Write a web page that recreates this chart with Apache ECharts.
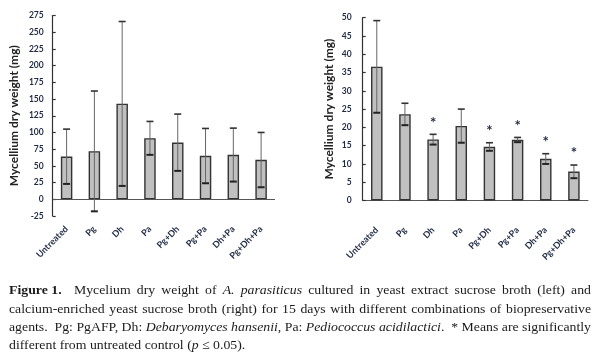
<!DOCTYPE html>
<html>
<head>
<meta charset="utf-8">
<script src="https://cdn.jsdelivr.net/npm/echarts@6/dist/echarts.min.js"></script>
<style>
html,body{margin:0;padding:0;background:#fff;}
#c{width:600px;height:359px;}
</style>
</head>
<body>
<div id="c"></div>
<script>
// ---- data ----
const categories = ['Untreated','Pg','Dh','Pa','Pg+Dh','Pg+Pa','Dh+Pa','Pg+Dh+Pa'];
const leftMeans = [64, 72, 143, 91.5, 85, 65, 66.5, 59];
const leftSD    = [41, 90, 123, 25, 42.5, 41, 40, 41];
const rightMeans = [36.6, 23.6, 16.7, 20.4, 14.7, 16.6, 11.4, 7.9];
const rightSD    = [12.6, 3.0, 1.4, 4.6, 1.1, 0.65, 1.4, 1.8];
const rightSig   = [0, 0, 1, 0, 1, 1, 1, 1];
const leftTicks = {min: -25, max: 275, interval: 25};
const rightTicks = {min: 0, max: 50, interval: 5};
const yName = 'Mycellium dry weight (mg)';

const captionLines = [
  [['Figure 1.','b'],['',''],['Mycelium',''],['dry',''],['weight',''],['of',''],['A.','i'],['parasiticus','i'],['cultured',''],['in',''],['yeast',''],['extract',''],['sucrose',''],['broth',''],['(left)',''],['and','']],
  [['calcium-enriched',''],['yeast',''],['sucrose',''],['broth',''],['(right)',''],['for',''],['15',''],['days',''],['with',''],['different',''],['combinations',''],['of',''],['biopreservative','']],
  [['agents.',''],['',''],['Pg:',''],['PgAFP,',''],['Dh:',''],['Debaryomyces','i'],['hansenii','i'],[',',''],['Pa:',''],['Pediococcus','i'],['acidilactici','i'],['.',''],['',''],['* Means',''],['are',''],['significantly','']],
  [['different',''],['from',''],['untreated',''],['control',''],['(',''],['p','i'],['≤ 0.05).','']]
];

// ---- styles ----
const navy = '#1f2a44';
const tickFont = 'Lato';
const capFamily = '"Liberation Serif"';
const capSize = 13;

function errorSeries(gridIdx, means, sds, sig) {
  return {
    type: 'custom',
    xAxisIndex: gridIdx, yAxisIndex: gridIdx,
    z: 5,
    data: means.map((m, i) => [i, m, sds[i], sig ? sig[i] : 0]),
    encode: {x: 0, y: 1},
    renderItem: function (params, api) {
      const x = api.value(0), m = api.value(1), s = api.value(2), g = api.value(3);
      const t = api.coord([x, m + s]);
      const b = api.coord([x, m - s]);
      const hw = 3.5;
      const ch = [
        {type: 'line', shape: {x1: t[0], y1: t[1], x2: b[0], y2: b[1]}, style: {stroke: '#666', lineWidth: 1}},
        {type: 'line', shape: {x1: t[0] - hw, y1: t[1], x2: t[0] + hw, y2: t[1]}, style: {stroke: '#333', lineWidth: 1.6}},
        {type: 'line', shape: {x1: b[0] - hw, y1: b[1], x2: b[0] + hw, y2: b[1]}, style: {stroke: '#222', lineWidth: 2}}
      ];
      if (g) {
        ch.push({type: 'text', style: {text: '*', x: t[0], y: t[1] - 4, textAlign: 'center', textVerticalAlign: 'bottom',
          font: 'bold 15px ' + tickFont, fill: navy}});
      }
      return {type: 'group', children: ch};
    }
  };
}

function xAx(gridIdx, margin, showLine, showLabel) {
  return {
    type: 'category', gridIndex: gridIdx, data: categories, position: 'bottom',
    axisLine: {show: showLine, onZero: false, lineStyle: {color: '#555', width: 1}},
    axisTick: {show: false},
    axisLabel: {show: showLabel, rotate: 45, margin: margin, interval: 0, hideOverlap: false, color: navy, fontFamily: tickFont, fontWeight: 'bold', fontSize: 9}
  };
}
function yAx(gridIdx, t, gap, margin) {
  return {
    type: 'value', gridIndex: gridIdx, min: t.min, max: t.max, interval: t.interval,
    name: yName, nameLocation: 'middle', nameGap: gap, nameRotate: 90, nameMoveOverlap: false,
    nameTextStyle: {color: '#222', fontFamily: tickFont, fontWeight: 'bold', fontSize: 12},
    axisLine: {show: true, onZero: false, lineStyle: {color: '#333', width: 1.2}},
    axisTick: {show: true, inside: true, length: 3, lineStyle: {color: '#333', width: 1.2}},
    splitLine: {show: false},
    axisLabel: {margin: margin, color: navy, fontFamily: tickFont, fontWeight: 'bold', fontSize: 8.5}
  };
}
function barSeries(gridIdx, data, zeroLine) {
  const s = {
    type: 'bar', xAxisIndex: gridIdx, yAxisIndex: gridIdx, data: data, barWidth: 11.5,
    itemStyle: {color: '#c0c0c0', borderColor: '#333', borderWidth: 1.4}, z: 2, animation: false
  };
  if (zeroLine) {
    s.markLine = {silent: true, symbol: 'none', label: {show: false}, animation: false,
      lineStyle: {color: '#555', width: 1, type: 'solid'}, data: [{yAxis: 0}]};
  }
  return s;
}

// ---- caption layout (justified, horizontally scaled serif) ----
const mctx = document.createElement('canvas').getContext('2d');
function fontFor(st) {
  return (st === 'i' ? 'italic ' : '') + (st === 'b' ? 'bold ' : '') + capSize + 'px ' + capFamily;
}
const capLeft = 9, capRight = 591, capTop = 291, capLead = 18.3;
mctx.font = fontFor('');
const sp = mctx.measureText(' ').width;
const parsed = captionLines.map(line => {
  const words = [];
  line.forEach(tok => {
    const [txt, st] = tok;
    if (txt === '') { if (words.length) words[words.length - 1].extra = 1; return; }
    const lastW = words[words.length - 1];
    if (/^[,.)]/.test(txt) && lastW) { lastW.parts.push({txt, st}); return; }
    if (lastW && lastW.parts[lastW.parts.length - 1].txt === '(') { lastW.parts.push({txt, st}); return; }
    words.push({parts: [{txt, st}], extra: 0});
  });
  words.forEach(w => {
    w.parts.forEach(p => { mctx.font = fontFor(p.st); p.w = mctx.measureText(p.txt).width; });
    w.w = w.parts.reduce((a, p) => a + p.w, 0);
  });
  let gapUnits = 0;
  for (let i = 0; i < words.length - 1; i++) gapUnits += 1 + words[i].extra;
  const total = words.reduce((a, w) => a + w.w, 0);
  return {words, gapUnits, total, natural: total + gapUnits * sp};
});
let scale = 10;
parsed.forEach((p, i) => { if (i < parsed.length - 1) scale = Math.min(scale, (capRight - capLeft) / p.natural); });
const captionGraphics = [];
parsed.forEach((p, li) => {
  const last = li === parsed.length - 1;
  const unit = last ? sp * scale : (capRight - capLeft - p.total * scale) / p.gapUnits;
  let x = capLeft;
  const y = capTop + li * capLead;
  p.words.forEach(w => {
    let px = x;
    w.parts.forEach(part => {
      captionGraphics.push({type: 'text', silent: true, x: px, y: y, scaleX: scale,
        style: {text: part.txt, x: 0, y: 0, font: fontFor(part.st), fill: '#1a1a1a', textVerticalAlign: 'middle'}});
      px += part.w * scale;
    });
    x += w.w * scale + unit * (1 + w.extra);
  });
});

const chart = echarts.init(document.getElementById('c'), null, {renderer: 'canvas'});
chart.setOption({
  animation: false,
  backgroundColor: '#fff',
  grid: [
    {left: 52.7, top: 15.5, width: 222.3, height: 200.5, outerBoundsMode: 'none'},
    {left: 362.7, top: 17.7, width: 225.3, height: 182.8, outerBoundsMode: 'none'},
    {left: 52.7, top: 15.5, width: 222.3, height: 184, outerBoundsMode: 'none'}
  ],
  xAxis: [xAx(0, 11, false, false), xAx(1, 28, true, true), xAx(2, 28, false, true)],
  yAxis: [yAx(0, leftTicks, 33, 9), yAx(1, rightTicks, 28, 11),
    {type: 'value', gridIndex: 2, min: 0, max: 1, show: false}],
  series: [
    barSeries(0, leftMeans, true), errorSeries(0, leftMeans, leftSD, null),
    barSeries(1, rightMeans, false), errorSeries(1, rightMeans, rightSD, rightSig)
  ],
  graphic: captionGraphics
});
</script>
</body>
</html>
